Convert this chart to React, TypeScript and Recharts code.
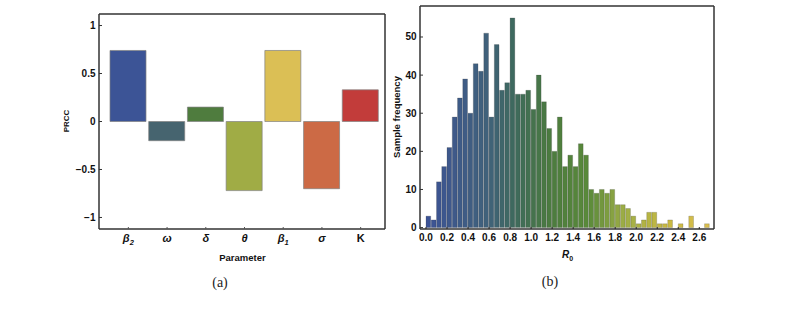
import React from "react";
import { BarChart, Bar, XAxis, YAxis, Cell } from "recharts";

// panel (a): PRCC sensitivity
const parameters = ["β2", "ω", "δ", "θ", "β1", "σ", "K"];
const prcc = [0.74, -0.2, 0.15, -0.72, 0.74, -0.7, 0.33];
const prccColors = ["#3c5496", "#46646f", "#4f7c3e", "#a0ac45", "#dbbf55", "#cc6a45", "#c23c3a"];
const prccTicks = [-1, -0.5, 0, 0.5, 1];

// panel (b): histogram of R0
const binStarts = [
  0.0, 0.05, 0.1, 0.15, 0.2, 0.25, 0.3, 0.35, 0.4, 0.45,
  0.5, 0.55, 0.6, 0.65, 0.7, 0.75, 0.8, 0.85, 0.9, 0.95,
  1.0, 1.05, 1.1, 1.15, 1.2, 1.25, 1.3, 1.35, 1.4, 1.45,
  1.5, 1.55, 1.6, 1.65, 1.7, 1.75, 1.8, 1.85, 1.9, 1.95,
  2.0, 2.05, 2.1, 2.15, 2.2, 2.25, 2.3, 2.35, 2.4, 2.45,
  2.5, 2.55, 2.6, 2.65,
];
const frequencies = [
  3, 2, 12, 16, 21, 29, 34, 39, 30, 43,
  41, 51, 29, 48, 36, 38, 55, 35, 35, 36,
  31, 40, 33, 26, 20, 29, 16, 19, 16, 22,
  19, 10, 9, 10, 9, 10, 6, 6, 5, 3,
  1, 2, 4, 4, 1, 1, 2, 0, 1, 0,
  3, 0, 0, 1,
];
const binWidth = 0.05;
const r0Ticks = [0, 0.2, 0.4, 0.6, 0.8, 1.0, 1.2, 1.4, 1.6, 1.8, 2.0, 2.2, 2.4, 2.6];
const freqTicks = [0, 10, 20, 30, 40, 50];

// colour ramp used by the histogram (blue -> green -> yellow)
const ramp: [number, number[]][] = [
  [0.0, [60, 82, 150]],
  [0.6, [64, 98, 122]],
  [0.85, [62, 106, 92]],
  [1.2, [76, 124, 62]],
  [1.55, [90, 138, 58]],
  [1.9, [160, 175, 70]],
  [2.3, [200, 185, 65]],
  [2.7, [218, 190, 80]],
];
const rampColor = (x: number) => {
  for (let i = 1; i < ramp.length; i++) {
    if (x <= ramp[i][0]) {
      const [x0, c0] = ramp[i - 1];
      const [x1, c1] = ramp[i];
      const t = (x - x0) / (x1 - x0);
      const c = c0.map((v, k) => Math.round(v + (c1[k] - v) * t));
      return `rgb(${c[0]},${c[1]},${c[2]})`;
    }
  }
  const c = ramp[ramp.length - 1][1];
  return `rgb(${c[0]},${c[1]},${c[2]})`;
};

const prccData = parameters.map((p, i) => ({ name: p, value: prcc[i] }));
const histData = binStarts.map((b, i) => ({ mid: b + binWidth / 2, count: frequencies[i] }));

const FONT = "'Liberation Sans', Arial, sans-serif";
const FRAME = "#333";
const FRAME_W = 1.5;
const TICK_GAP = 3; // tickSize + tickMargin

const fmtMinus = (v: number) => (v < 0 ? `−${Math.abs(v)}` : `${v}`);

// inward tick mark + label, left axis
const YTick = (props: any) => {
  const { x, y, payload, fmt } = props;
  const axisX = x + TICK_GAP;
  return (
    <g>
      <line x1={axisX} x2={axisX + 3} y1={y} y2={y} stroke="#333" />
      <text x={x - 0.5} y={y + 3.5} textAnchor="end" fontFamily={FONT} fontSize={10}
        fontWeight={700} fill="#111">{fmt ? fmt(payload.value) : payload.value}</text>
    </g>
  );
};

// inward tick mark + label, bottom axis
const R0Tick = (props: any) => {
  const { x, y, payload } = props;
  const axisY = y - TICK_GAP;
  return (
    <g>
      <line x1={x} x2={x} y1={axisY} y2={axisY - 2} stroke="#222" />
      <text x={x} y={axisY + 11.5} textAnchor="middle" fontFamily={FONT} fontSize={10}
        fontWeight={700} fill="#111">{payload.value.toFixed(1)}</text>
    </g>
  );
};

const ParamTick = (props: any) => {
  const { x, y, payload } = props;
  const label: string = payload.value;
  const m = label.match(/^(.*?)(\d)$/);
  const axisY = y - TICK_GAP;
  return (
    <g>
      <line x1={x} x2={x} y1={axisY} y2={axisY - 2} stroke="#555" />
      <text x={x} y={axisY + 13} textAnchor="middle" fontFamily={FONT} fontSize={11}
        fontWeight={700} fontStyle={label === "K" ? "normal" : "italic"} fill="#111">
        {m ? m[1] : label}
        {m && <tspan dy={3} fontSize={7.5}>{m[2]}</tspan>}
      </text>
    </g>
  );
};

export default function App() {
  return (
    <div style={{ position: "relative", width: 794, height: 311, background: "#fff" }}>
      <style>{`body{margin:0}`}</style>

      <div style={{ position: "absolute", left: 0, top: 0 }}>
        <BarChart width={400} height={311} data={prccData}
          margin={{ top: 13, right: 14, bottom: 52, left: 59 }} barCategoryGap={2}>
          <XAxis dataKey="name" tick={<ParamTick />} tickLine={false} tickSize={1} tickMargin={2}
            height={30} padding={{ left: 10, right: 5 }} stroke={FRAME} strokeWidth={FRAME_W} interval={0} />
          <XAxis xAxisId="top" orientation="top" dataKey="name" height={1} tick={false}
            tickLine={false} stroke={FRAME} strokeWidth={FRAME_W} />
          <YAxis type="number" domain={[-1.12, 1.12]} ticks={prccTicks} allowDataOverflow width={40}
            tick={<YTick fmt={fmtMinus} />} tickLine={false} tickSize={1} tickMargin={2}
            stroke={FRAME} strokeWidth={FRAME_W} />
          <YAxis yAxisId="right" orientation="right" width={1} tick={false} tickLine={false}
            stroke={FRAME} strokeWidth={FRAME_W} />
          <Bar dataKey="value" barSize={36} isAnimationActive={false}
            stroke="rgba(130,130,130,0.7)" strokeWidth={1}>
            {prccData.map((d, i) => (
              <Cell key={d.name} fill={prccColors[i]} />
            ))}
          </Bar>
        </BarChart>
      </div>

      <div style={{ position: "absolute", left: 370, top: 0 }}>
        <BarChart width={370} height={311} data={histData}
          margin={{ top: 5, right: 25, bottom: 52, left: 20 }} barGap={0} barCategoryGap={0}>
          <XAxis type="number" dataKey="mid" domain={[-0.057, 2.74]} ticks={r0Ticks} allowDataOverflow
            tick={<R0Tick />} tickLine={false} tickSize={1} tickMargin={2} height={30}
            stroke={FRAME} strokeWidth={FRAME_W} interval={0} />
          <XAxis xAxisId="top" orientation="top" type="number" dataKey="mid" domain={[-0.057, 2.74]}
            allowDataOverflow height={1} tick={false} tickLine={false} stroke={FRAME} strokeWidth={FRAME_W} />
          <YAxis type="number" domain={[-0.37, 58.13]} ticks={freqTicks} allowDataOverflow width={30}
            tick={<YTick />} tickLine={false} tickSize={1} tickMargin={2} stroke={FRAME} strokeWidth={FRAME_W} />
          <YAxis yAxisId="right" orientation="right" width={1} tick={false} tickLine={false}
            stroke={FRAME} strokeWidth={FRAME_W} />
          <Bar dataKey="count" barSize={5.26} isAnimationActive={false}
            stroke="rgba(60,60,60,0.35)" strokeWidth={0.6}>
            {histData.map((d, i) => (
              <Cell key={i} fill={rampColor(d.mid)} />
            ))}
          </Bar>
        </BarChart>
      </div>

      <svg width={794} height={311} style={{ position: "absolute", left: 0, top: 0, pointerEvents: "none" }}>
        <g fontFamily={FONT} fontWeight={700} fill="#111">
          <text x={66} y={121} fontSize={8} textAnchor="middle" dominantBaseline="central"
            transform="rotate(-90 66 121)">PRCC</text>
          <text x={242.5} y={257} fontSize={9.5} textAnchor="middle" dominantBaseline="central">Parameter</text>
          <text x={396} y={117} fontSize={9.5} textAnchor="middle" dominantBaseline="central"
            transform="rotate(-90 396 117)">Sample frequency</text>
          <text x={567.5} y={258} fontSize={10} textAnchor="middle" fontStyle="italic">
            R<tspan dy={2.5} fontSize={7} fontStyle="normal">0</tspan>
          </text>
        </g>
        <g fontFamily="'Liberation Serif', 'Times New Roman', serif" fontSize={14} fill="#222">
          <text x={220} y={287} textAnchor="middle">(a)</text>
          <text x={550} y={286} textAnchor="middle">(b)</text>
        </g>
      </svg>
    </div>
  );
}
